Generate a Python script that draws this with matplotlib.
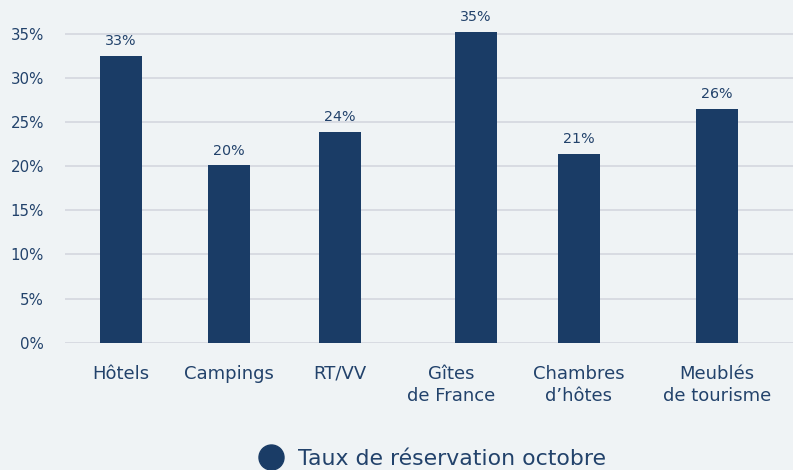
import matplotlib.pyplot as plt
from matplotlib.lines import Line2D

# Données du graphique
categories = ['Hôtels', 'Campings', 'RT/VV', 'Gîtes\nde France', 'Chambres\nd’hôtes', 'Meublés\nde tourisme']
taux = [32.5, 20.1, 23.9, 35.2, 21.4, 26.5]
etiquettes = ['33%', '20%', '24%', '35%', '21%', '26%']
yticks = [0, 5, 10, 15, 20, 25, 30, 35]
legende = 'Taux de réservation octobre'

# position des barres et des libellés (en pixels depuis le bord de l'axe)
pos_barres = [56, 164, 275, 411, 514, 652]
pos_libelles = [56, 164, 275, 386, 514, 652]

bleu = '#1a3c66'
texte = '#22426b'
fond = '#eff3f5'
grille = '#d6d9e0'

plt.rcParams['font.family'] = ['DejaVu Sans']

fig = plt.figure(figsize=(7.93, 4.70), dpi=100, facecolor=fond)
ax = fig.add_axes([65 / 793, 1 - 342.7 / 470, 1 - 65 / 793, (342.7 - 16) / 470])
ax.set_facecolor(fond)

ax.bar(pos_barres, taux, width=42, color=bleu, zorder=3)

# valeurs au-dessus des barres
for x, v, lab in zip(pos_barres, taux, etiquettes):
    ax.annotate(lab, (x, v), xytext=(0, 5.5), textcoords='offset points',
                ha='center', va='bottom', fontsize=10.3, color=texte)

ax.set_xlim(0, 728)
ax.set_ylim(0, 37)
ax.set_yticks(yticks)
ax.set_yticklabels([f'{t}%' for t in yticks], fontsize=10.8, color=texte)
ax.set_xticks(pos_libelles)
ax.set_xticklabels(categories, fontsize=13, color=texte, linespacing=1.3, va='top')
ax.tick_params(axis='y', length=0, pad=15)
ax.tick_params(axis='x', length=0, pad=16)

for t in yticks:
    ax.axhline(t, color=grille, linewidth=1.3, zorder=1)
for s in ax.spines.values():
    s.set_visible(False)

# légende en bas
handle = Line2D([], [], marker='o', color='none', markerfacecolor=bleu,
                markeredgecolor=bleu, markersize=18)
fig.legend([handle], [legende], loc='center', bbox_to_anchor=(433 / 793, 1 - 459 / 470),
           frameon=False, fontsize=15.8, handletextpad=0.7, labelcolor=texte,
           borderpad=0, handlelength=1.0)

plt.savefig('out.png', dpi=100, facecolor=fond)
